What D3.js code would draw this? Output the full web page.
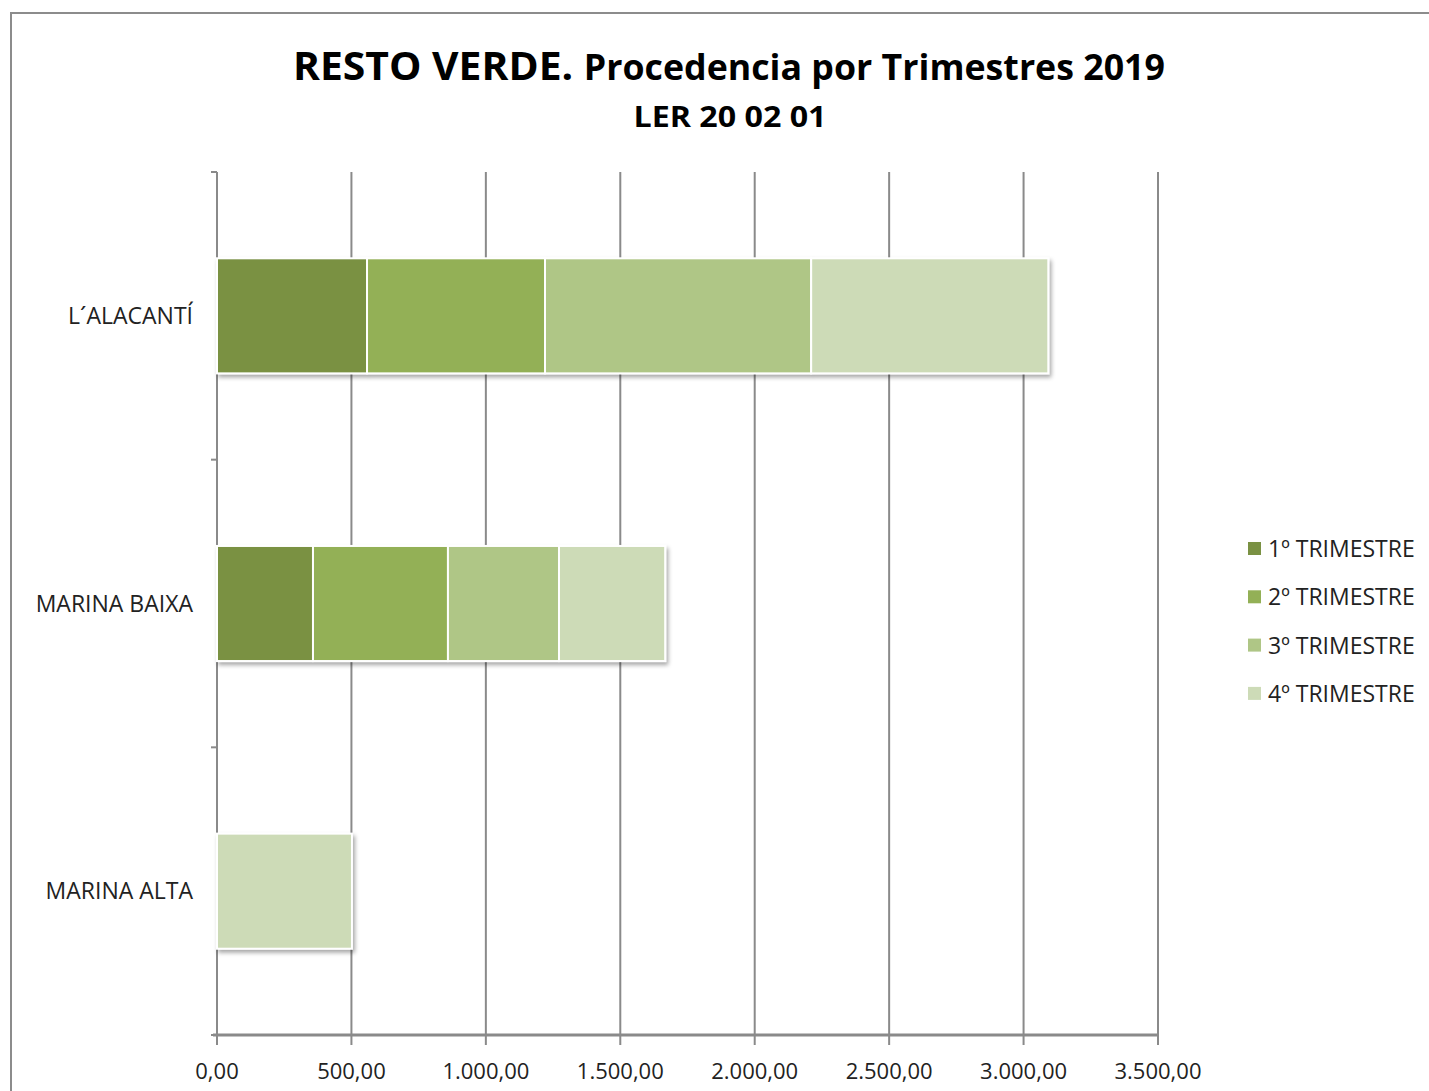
<!DOCTYPE html>
<html>
<head>
<meta charset="utf-8">
<script src="https://cdn.jsdelivr.net/npm/d3@7"></script>
<style>
  body { margin: 0; background: #fff; }
  text { font-family: "Open Sans", "Noto Sans", sans-serif; }
</style>
</head>
<body>
<div class="Graph"></div>
<script>
// data
var comarcas = ["L´ALACANTÍ", "MARINA BAIXA", "MARINA ALTA"];
var trimestres = ["1º TRIMESTRE", "2º TRIMESTRE", "3º TRIMESTRE", "4º TRIMESTRE"];
var q1 = [558, 357, 0];
var q2 = [662, 502, 0];
var q3 = [990, 413, 0];
var q4 = [882, 395, 502];
var xTicks = [0, 500, 1000, 1500, 2000, 2500, 3000, 3500];
var colores = ["#7a9143", "#93b056", "#afc686", "#cddbb7"];

var W = 1429, H = 1091;
var margin = { top: 172, left: 217, right: 271, bottom: 56 };
var width = 1158 - margin.left,
    height = 1035 - margin.top;

var es = d3.formatLocale({ decimal: ",", thousands: ".", grouping: [3], currency: ["", "€"] });
var fmt = es.format(",.2f");

var svg = d3.select(".Graph")
    .append("svg")
    .attr("width", W)
    .attr("height", H);

var defs = svg.append("defs");
var f = defs.append("filter").attr("id", "sombra")
    .attr("x", "-5%").attr("y", "-10%").attr("width", "115%").attr("height", "130%");
f.append("feDropShadow").attr("dx", 2).attr("dy", 3).attr("stdDeviation", 2)
    .attr("flood-color", "#000").attr("flood-opacity", 0.35);

// marco exterior
svg.append("path")
    .attr("d", "M11," + (H + 5) + " L11,13 L" + (W + 5) + ",13")
    .attr("fill", "none").attr("stroke", "#8c8c8c").attr("stroke-width", 2);

// titulo
var t = svg.append("text")
    .attr("x", 729).attr("y", 80)
    .attr("text-anchor", "middle")
    .attr("font-weight", "bold")
    .attr("fill", "#000")
    .attr("textLength", 872).attr("lengthAdjust", "spacingAndGlyphs");
t.append("tspan").attr("font-size", 40).text("RESTO VERDE. ");
t.append("tspan").attr("font-size", 35).text("Procedencia por Trimestres 2019");

svg.append("text")
    .attr("x", 730).attr("y", 127)
    .attr("text-anchor", "middle")
    .attr("font-weight", "bold")
    .attr("font-size", 29)
    .attr("textLength", 193).attr("lengthAdjust", "spacingAndGlyphs")
    .text("LER 20 02 01");

var g = svg.append("g")
    .attr("transform", "translate(" + margin.left + "," + margin.top + ")");

var x = d3.scaleLinear().domain([0, 3500]).range([0, width]);
var y = d3.scaleBand().domain(comarcas).range([0, height]).paddingInner(0.6).paddingOuter(0.3);
var yb = d3.scaleLinear().domain([0, comarcas.length]).range([0, height]);

// rejilla vertical
g.append("g").selectAll("line")
    .data(xTicks)
    .enter()
    .append("line")
    .attr("x1", d => x(d)).attr("x2", d => x(d))
    .attr("y1", 0).attr("y2", height + 10)
    .attr("stroke", "#8a8a8a").attr("stroke-width", 2);

// eje y (linea y marcas)
g.append("line")
    .attr("x1", 0).attr("x2", 0).attr("y1", 0).attr("y2", height)
    .attr("stroke", "#8a8a8a").attr("stroke-width", 2);
g.append("g").selectAll("line")
    .data(d3.range(comarcas.length + 1))
    .enter()
    .append("line")
    .attr("x1", -6).attr("x2", 0)
    .attr("y1", d => yb(d)).attr("y2", d => yb(d))
    .attr("stroke", "#8a8a8a").attr("stroke-width", 2);

// barras apiladas
var series = [q1, q2, q3, q4];
var filas = comarcas.map((c, i) => {
    var o = { comarca: c };
    trimestres.forEach((tr, j) => o[tr] = series[j][i]);
    return o;
});
var stack = d3.stack().keys(trimestres)(filas);

var capas = g.append("g").attr("filter", "url(#sombra)");
capas.selectAll("g")
    .data(stack)
    .enter()
    .append("g")
    .attr("fill", (d, i) => colores[i])
    .selectAll("rect")
    .data(d => d.filter(s => s[1] - s[0] > 0))
    .enter()
    .append("rect")
    .attr("x", d => x(d[0]))
    .attr("y", d => y(d.data.comarca))
    .attr("width", d => x(d[1]) - x(d[0]))
    .attr("height", y.bandwidth())
    .attr("stroke", "#fff")
    .attr("stroke-width", 2);

// eje x
g.append("line")
    .attr("x1", -4).attr("x2", width).attr("y1", height).attr("y2", height)
    .attr("stroke", "#8a8a8a").attr("stroke-width", 3);

g.append("g").selectAll("text")
    .data(xTicks)
    .enter()
    .append("text")
    .attr("x", d => x(d))
    .attr("y", height + 44)
    .attr("text-anchor", "middle")
    .attr("font-size", 22)
    .attr("fill", "#222")
    .text(d => fmt(d));

// etiquetas de categoria
g.append("g").selectAll("text")
    .data(comarcas)
    .enter()
    .append("text")
    .attr("x", -24)
    .attr("y", d => y(d) + y.bandwidth() / 2 + 8)
    .attr("text-anchor", "end")
    .attr("font-size", 23)
    .attr("fill", "#222")
    .text(d => d);

// leyenda
var ley = svg.append("g").attr("transform", "translate(1248,549)");
var item = ley.selectAll("g")
    .data(trimestres)
    .enter()
    .append("g")
    .attr("transform", (d, i) => "translate(0," + (i * 48.3) + ")");
item.append("rect")
    .attr("x", 0).attr("y", -7)
    .attr("width", 13).attr("height", 13)
    .attr("fill", (d, i) => colores[i]);
item.append("text")
    .attr("x", 20).attr("y", 8)
    .attr("font-size", 23)
    .attr("fill", "#222")
    .text(d => d);
</script>
</body>
</html>
